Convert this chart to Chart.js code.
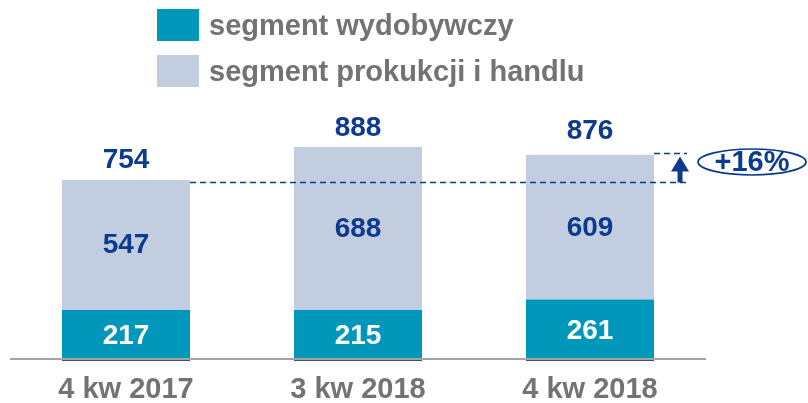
<!DOCTYPE html>
<html>
<head>
<meta charset="utf-8">
<script src="https://cdn.jsdelivr.net/npm/chart.js@4/dist/chart.umd.min.js"></script>
<style>
  html, body { margin: 0; padding: 0; background: #ffffff; }
  #wrap { width: 808px; height: 403px; }
</style>
</head>
<body>
<div id="wrap"><canvas id="c" width="808" height="403"></canvas></div>
<script>
const categories = ['4 kw 2017', '3 kw 2018', '4 kw 2018'];
const seriesNames = ['segment wydobywczy', 'segment prokukcji i handlu'];
const wydobywczy = [217, 215, 261];
const produkcjaHandel = [547, 688, 609];
const totals = [754, 888, 876];
const changeLabel = '+16%';

const FONT = '"Liberation Sans", Arial, sans-serif';
const NAVY = '#0b3a8e';
const GRAY = '#737373';
const TEAL = '#0097ba';
const LIGHT = '#c2cde0';

const overlay = {
  id: 'overlay',
  afterDatasetsDraw(chart) {
    const ctx = chart.ctx;
    const y = chart.scales.y;
    const x = chart.scales.x;
    const m0 = chart.getDatasetMeta(0);
    const m1 = chart.getDatasetMeta(1);
    const area = chart.chartArea;
    ctx.save();

    // baseline axis line
    ctx.strokeStyle = '#a3a3a3';
    ctx.lineWidth = 2;
    ctx.beginPath();
    ctx.moveTo(area.left, area.bottom - 2);
    ctx.lineTo(area.right, area.bottom - 2);
    ctx.stroke();

    ctx.textAlign = 'center';
    ctx.textBaseline = 'middle';
    ctx.font = 'bold 28px ' + FONT;
    categories.forEach((c, i) => {
      const b0 = m0.data[i], b1 = m1.data[i];
      ctx.fillStyle = '#ffffff';
      ctx.fillText(String(wydobywczy[i]), b0.x, (b0.y + b0.base) / 2 + 1);
      ctx.fillStyle = NAVY;
      ctx.fillText(String(produkcjaHandel[i]), b1.x, (b1.y + b1.base) / 2 + 1);
      ctx.fillText(String(totals[i]), b1.x, y.getPixelForValue(totals[i]) - 22);
      ctx.fillStyle = GRAY;
      ctx.font = 'bold 29px ' + FONT;
      ctx.fillText(c, x.getPixelForValue(i), area.bottom + 29);
      ctx.font = 'bold 28px ' + FONT;
    });

    // dashed comparison lines
    const bFirst = m1.data[0], bLast = m1.data[2];
    const yLow = Math.round(y.getPixelForValue(totals[0])) + 0.5;
    const yHigh = Math.round(y.getPixelForValue(totals[2])) + 0.5;
    const xStart = bFirst.x + bFirst.width / 2;
    const xEnd = bLast.x + bLast.width / 2 + 33;
    ctx.strokeStyle = NAVY;
    ctx.lineWidth = 1.3;
    ctx.setLineDash([6, 4]);
    ctx.beginPath();
    ctx.moveTo(xStart, yLow); ctx.lineTo(xEnd, yLow);
    ctx.moveTo(bLast.x + bLast.width / 2, yHigh); ctx.lineTo(xEnd, yHigh);
    ctx.stroke();
    ctx.setLineDash([]);

    // arrow
    const ax = bLast.x + bLast.width / 2 + 26;
    ctx.fillStyle = NAVY;
    ctx.beginPath();
    ctx.moveTo(ax, yHigh + 3);
    ctx.lineTo(ax + 9, yHigh + 18);
    ctx.lineTo(ax + 2.5, yHigh + 18);
    ctx.lineTo(ax + 2.5, yLow);
    ctx.lineTo(ax - 2.5, yLow);
    ctx.lineTo(ax - 2.5, yHigh + 18);
    ctx.lineTo(ax - 9, yHigh + 18);
    ctx.closePath();
    ctx.fill();

    // ellipse with change label
    const ex = ax + 72, ey = (yLow + yHigh) / 2 - 6;
    ctx.strokeStyle = NAVY;
    ctx.lineWidth = 1.7;
    ctx.beginPath();
    ctx.ellipse(ex, ey, 54, 13, 0, 0, Math.PI * 2);
    ctx.stroke();
    ctx.fillStyle = NAVY;
    ctx.font = 'bold 29px ' + FONT;
    ctx.fillText(changeLabel, ex, ey + 1);

    // legend
    const colors = [TEAL, LIGHT];
    ctx.textAlign = 'left';
    seriesNames.forEach((n, i) => {
      const top = 9 + i * 46;
      ctx.fillStyle = colors[i];
      ctx.fillRect(157, top, 42, 32);
      ctx.fillStyle = GRAY;
      ctx.font = 'bold 29px ' + FONT;
      ctx.fillText(n, 209, top + 18);
    });

    ctx.restore();
  }
};

new Chart(document.getElementById('c'), {
  type: 'bar',
  data: {
    labels: categories,
    datasets: [
      {
        label: seriesNames[0],
        data: wydobywczy,
        backgroundColor: TEAL,
        borderColor: '#3e5075',
        borderWidth: { top: 0, left: 0, right: 0, bottom: 2 },
        borderSkipped: false,
        categoryPercentage: 1,
        barPercentage: 0.552
      },
      {
        label: seriesNames[1],
        data: produkcjaHandel,
        backgroundColor: LIGHT,
        borderWidth: 0,
        categoryPercentage: 1,
        barPercentage: 0.552
      }
    ]
  },
  options: {
    responsive: false,
    animation: false,
    layout: { padding: { left: 10, right: 102, top: 124, bottom: 42 } },
    plugins: { legend: { display: false }, tooltip: { enabled: false } },
    scales: {
      x: { stacked: true, display: false },
      y: { stacked: true, display: false, min: 0, max: 1000 }
    }
  },
  plugins: [overlay]
});
</script>
</body>
</html>
